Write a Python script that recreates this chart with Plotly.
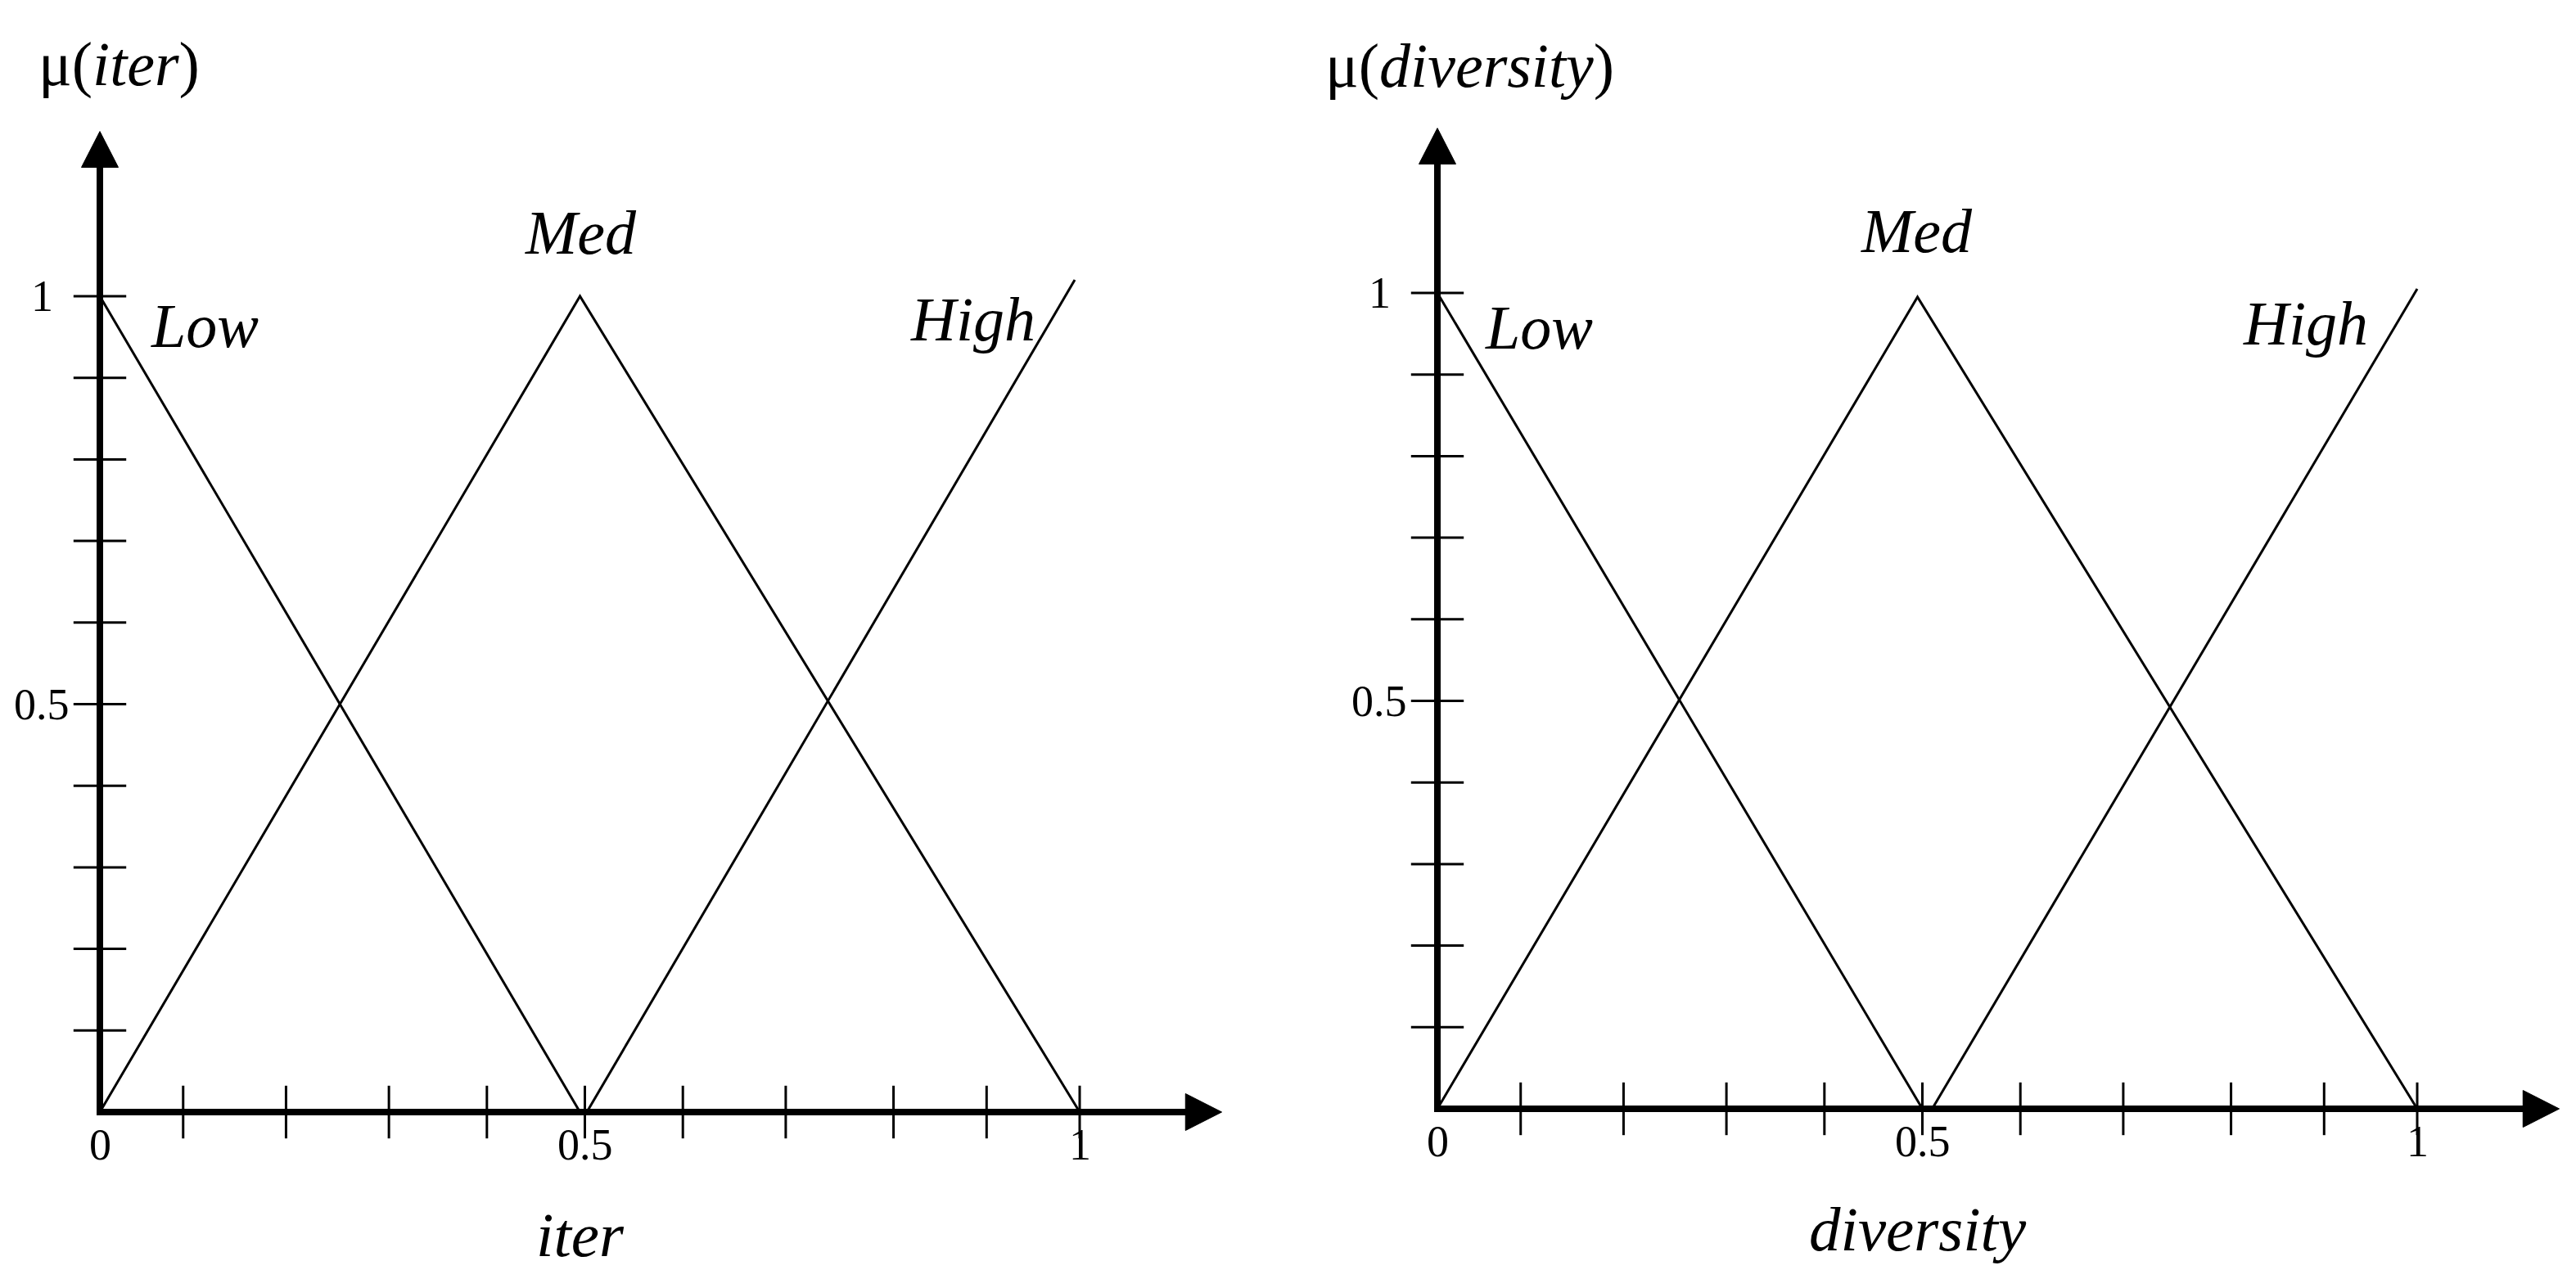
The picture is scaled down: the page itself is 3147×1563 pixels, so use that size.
import plotly.graph_objects as go

# Membership functions (left: iter, right: diversity)
ITER_LOW_X = [0, 0.49]
ITER_LOW_Y = [1, 0]
ITER_MED_X = [0, 0.49, 1.0]
ITER_MED_Y = [0, 1, 0]
ITER_HIGH_X = [0.497, 0.995]
ITER_HIGH_Y = [0, 1.02]

DIV_LOW_X = [0, 0.495]
DIV_LOW_Y = [1, 0]
DIV_MED_X = [0, 0.49, 1.0]
DIV_MED_Y = [0, 0.995, 0]
DIV_HIGH_X = [0.505, 1.0]
DIV_HIGH_Y = [0, 1.005]

# Tick marks on the axes
X_TICKS = [0.085, 0.19, 0.295, 0.395, 0.495, 0.595, 0.70, 0.81, 0.905, 1.0]
Y_TICKS = [0.1, 0.2, 0.3, 0.4, 0.5, 0.6, 0.7, 0.8, 0.9, 1.0]
X_TICK_LABEL_POS = [0, 0.495, 1.0]
X_TICK_LABELS = ['0', '0.5', '1']
Y_TICK_LABEL_POS = [1.0, 0.5]
Y_TICK_LABELS = ['1', '0.5']

# page body has an 8px margin, so the figure is drawn 8px in
PAD = 8
W, H = 3147 - 2 * PAD, 1563 - 2 * PAD
FONT = 'Liberation Serif'
UNIT_X = 1197
UNIT_Y = 997

# axis arrow heads (in axis units)
UP_TIP, UP_BASE, UP_HALF = 1.202, 1.158, 22.5 / UNIT_X
RIGHT_TIP, RIGHT_BASE, RIGHT_HALF = 1.145, 1.108, 22.5 / UNIT_Y


def x_axis(origin_px, lo=-0.09, hi=1.16):
    o = origin_px - PAD
    a = max(o + lo * UNIT_X, 0)
    b = min(o + hi * UNIT_X, W)
    return dict(domain=[a / W, b / W], range=[(a - o) / UNIT_X, (b - o) / UNIT_X])


def y_axis(origin_px, lo=-0.2, hi=1.35):
    o = origin_px - PAD
    bottom = min(o - lo * UNIT_Y, H)
    top = max(o - hi * UNIT_Y, 0)
    return dict(domain=[1 - bottom / H, 1 - top / H],
                range=[(o - bottom) / UNIT_Y, (o - top) / UNIT_Y])


fig = go.Figure()


def add_panel(xa, ya, curves, labels, var_label, axis_title):
    for cx, cy in curves:
        fig.add_trace(go.Scatter(x=cx, y=cy, mode='lines', xaxis=xa, yaxis=ya,
                                 line=dict(color='black', width=3)))
    # thick axes
    fig.add_trace(go.Scatter(x=[0, 0, RIGHT_BASE + 0.005], y=[UP_BASE + 0.005, 0, 0],
                             mode='lines', xaxis=xa, yaxis=ya,
                             line=dict(color='black', width=8)))
    # arrow heads
    fig.add_trace(go.Scatter(x=[-UP_HALF, UP_HALF, 0, -UP_HALF],
                             y=[UP_BASE, UP_BASE, UP_TIP, UP_BASE],
                             mode='lines', fill='toself', fillcolor='black',
                             xaxis=xa, yaxis=ya, line=dict(color='black', width=1)))
    fig.add_trace(go.Scatter(x=[RIGHT_BASE, RIGHT_BASE, RIGHT_TIP, RIGHT_BASE],
                             y=[-RIGHT_HALF, RIGHT_HALF, 0, -RIGHT_HALF],
                             mode='lines', fill='toself', fillcolor='black',
                             xaxis=xa, yaxis=ya, line=dict(color='black', width=1)))
    # ticks crossing the axes
    fig.add_trace(go.Scatter(x=X_TICKS, y=[0] * len(X_TICKS), mode='markers',
                             xaxis=xa, yaxis=ya,
                             marker=dict(symbol='line-ns-open', size=46, color='black',
                                         line=dict(color='black', width=3))))
    fig.add_trace(go.Scatter(x=[0] * len(Y_TICKS), y=Y_TICKS, mode='markers',
                             xaxis=xa, yaxis=ya,
                             marker=dict(symbol='line-ew-open', size=46, color='black',
                                         line=dict(color='black', width=3))))
    xr, yr = xa, ya
    for v, t in zip(X_TICK_LABEL_POS, X_TICK_LABELS):
        fig.add_annotation(x=v, y=0, xref=xr, yref=yr, text=t, showarrow=False,
                           yshift=-40, font=dict(family=FONT, size=54, color='black'))
    for v, t in zip(Y_TICK_LABEL_POS, Y_TICK_LABELS):
        fig.add_annotation(x=0, y=v, xref=xr, yref=yr, text=t, showarrow=False,
                           xshift=-71, font=dict(family=FONT, size=54, color='black'))
    for (lx, ly), t in zip(labels, ['Low', 'Med', 'High']):
        fig.add_annotation(x=lx, y=ly, xref=xr, yref=yr, text=f'<i>{t}</i>',
                           showarrow=False,
                           font=dict(family=FONT, size=76, color='black'))
    fig.add_annotation(x=var_label[0], y=var_label[1], xref=xr, yref=yr,
                       text=var_label[2], showarrow=False, xanchor='center',
                       font=dict(family=FONT, size=76, color='black'))
    fig.add_annotation(x=axis_title[0], y=axis_title[1], xref=xr, yref=yr,
                       text=axis_title[2], showarrow=False,
                       font=dict(family=FONT, size=77, color='black'))


add_panel('x', 'y',
          [(ITER_LOW_X, ITER_LOW_Y), (ITER_MED_X, ITER_MED_Y), (ITER_HIGH_X, ITER_HIGH_Y)],
          [(0.107, 0.964), (0.491, 1.078), (0.891, 0.972)],
          (0.02, 1.284, 'μ(<i>iter</i>)'),
          (0.49, -0.15, '<i>iter</i>'))
add_panel('x2', 'y2',
          [(DIV_LOW_X, DIV_LOW_Y), (DIV_MED_X, DIV_MED_Y), (DIV_HIGH_X, DIV_HIGH_Y)],
          [(0.104, 0.958), (0.489, 1.076), (0.886, 0.963)],
          (0.033, 1.278, 'μ(<i>diversity</i>)'),
          (0.49, -0.147, '<i>diversity</i>'))

axis_common = dict(visible=False, fixedrange=True)
fig.update_layout(
    width=W, height=H,
    margin=dict(l=0, r=0, t=0, b=0),
    paper_bgcolor='white', plot_bgcolor='white',
    showlegend=False, hovermode=False,
    xaxis=dict(**x_axis(122), **axis_common),
    yaxis=dict(**y_axis(1359), **axis_common),
    xaxis2=dict(**x_axis(1756), anchor='y2', **axis_common),
    yaxis2=dict(**y_axis(1355), anchor='x2', **axis_common),
)

fig.write_html('out.html')
